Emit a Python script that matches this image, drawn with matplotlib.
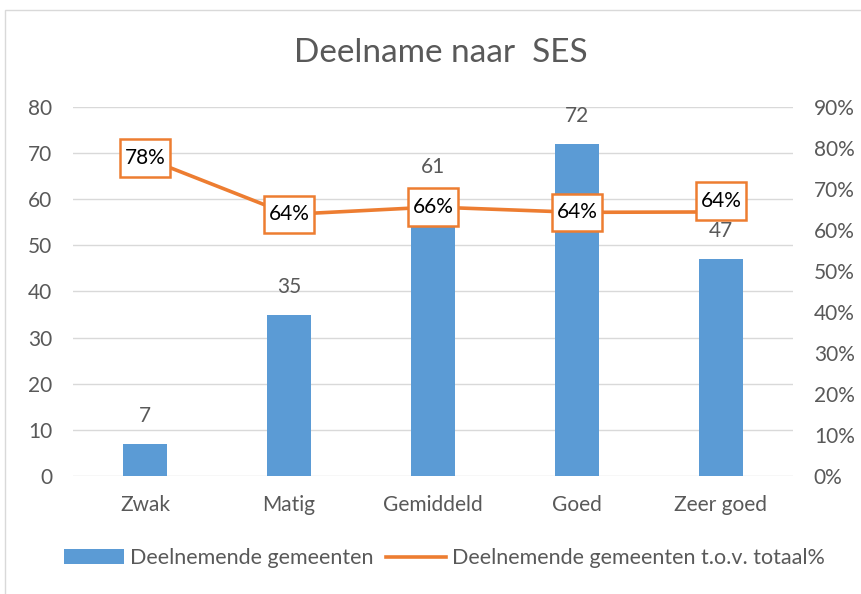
import numpy as np
import matplotlib.pyplot as plt
from matplotlib.patches import Rectangle
from matplotlib.path import Path

plt.rcParams['font.family'] = ['Lato', 'DejaVu Sans']

categories = ['Zwak', 'Matig', 'Gemiddeld', 'Goed', 'Zeer goed']
deelnemend = [7, 35, 61, 72, 47]
percentage = [0.776, 0.638, 0.656, 0.643, 0.644]

blue = '#5B9BD5'
orange = '#ED7D31'
grey = '#595959'


def label_box(x0, y0, width, height, mutation_size):
    # rectangle with more room above and below than left and right
    px = 0.22 * mutation_size
    py = 0.42 * mutation_size
    x0, y0 = x0 - px, y0 - py
    x1, y1 = x0 + width + 2 * px, y0 + height + 2 * py
    return Path([(x0, y0), (x1, y0), (x1, y1), (x0, y1), (x0, y0)], closed=True)


fig = plt.figure(figsize=(8.61, 5.94), dpi=100)
ax = fig.add_axes([0.0848, 0.1987, 0.8362, 0.6212])
ax2 = ax.twinx()

x = np.arange(len(categories))
bars = ax.bar(x, deelnemend, width=0.31, color=blue, zorder=2, label='Deelnemende gemeenten')
for xi, v in zip(x, deelnemend):
    ax.annotate(str(v), (xi, v), xytext=(0, 20), textcoords='offset points',
                ha='center', va='center', fontsize=15, color=grey)

ax.set_xlim(-0.5, len(categories) - 0.5)
ax.set_ylim(0, 80)
ax.set_yticks(range(0, 81, 10))
ax.grid(axis='y', color='#D9D9D9', linewidth=1, zorder=0)
ax.set_xticks(x)
ax.set_xticklabels(categories)
ax.tick_params(length=0, labelsize=15, labelcolor=grey, pad=15)
ax.tick_params(axis='x', pad=14)

line, = ax2.plot(x, percentage, color=orange, linewidth=2.6, zorder=3,
                 label='Deelnemende gemeenten t.o.v. totaal%')
ax2.set_ylim(0, 0.9)
ax2.set_yticks(np.arange(0, 0.91, 0.1))
ax2.set_yticklabels([f'{int(round(t * 100))}%' for t in np.arange(0, 0.91, 0.1)])
ax2.tick_params(length=0, labelsize=15, labelcolor=grey, pad=15)

offsets = [0, 0, 0, 0, 8]
for xi, p, off in zip(x, percentage, offsets):
    ax2.annotate(f'{p * 100:.0f}%', (xi, p), xytext=(0, off), textcoords='offset points',
                 ha='center', va='center', fontsize=15, color='black', zorder=5,
                 bbox=dict(boxstyle=label_box, fc='white', ec=orange, lw=1.8))

for a in (ax, ax2):
    for s in a.spines.values():
        s.set_visible(False)
ax.set_zorder(1)
ax2.set_zorder(2)
ax2.patch.set_visible(False)

fig.text(0.512, 0.91, 'Deelname naar  SES', ha='center', va='center', fontsize=24, color=grey)

fig.legend(handles=[bars, line], loc='center', bbox_to_anchor=(0.516, 0.06), ncol=2,
           frameon=False, fontsize=15.5, labelcolor=grey, handlelength=2.8,
           handletextpad=0.25, columnspacing=0.6)

fig.patches.append(Rectangle((0.006, -0.01), 1.0, 0.993, transform=fig.transFigure,
                             fill=False, ec='#D9D9D9', lw=1))

fig.savefig('out.png', dpi=100)
